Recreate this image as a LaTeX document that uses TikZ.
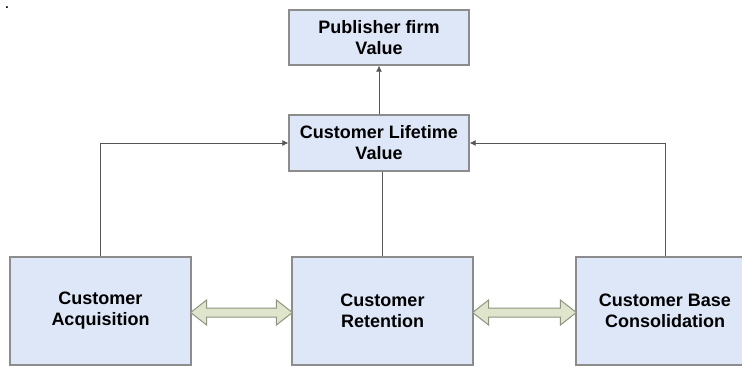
\documentclass[tikz,border=0pt]{standalone}
\usepackage{fontspec}
\setmainfont{Liberation Sans}
\usetikzlibrary{arrows.meta,calc}
\definecolor{boxfill}{HTML}{DDE7F8}
\definecolor{boxline}{HTML}{8C8C8C}
\definecolor{conn}{HTML}{555555}
\definecolor{arrfill}{HTML}{DFE4CC}
\definecolor{arrline}{HTML}{8E9680}
\tikzset{
  box/.style={draw=boxline, line width=1.2pt, fill=boxfill, align=center,
    font=\fontsize{18}{21}\selectfont\bfseries, inner sep=0pt},
  conline/.style={draw=conn, line width=1pt},
  tip/.style={-{Latex[length=6pt,width=6pt]}},
  dblarrow/.style={draw=arrline, fill=arrfill, line width=1pt, line join=miter}
}
\newcommand{\blockarrow}[2]{%
  \path[dblarrow] ($(#1)+(-1,1.5)$) -- ++(16,-12.5) -- ++(0,8) -- ($(#2)+(-15,-3)$)
    -- ++(0,-8) -- ($(#2)+(1,1.5)$) -- ++(-16,12.5) -- ++(0,-8) -- ($(#1)+(15,6)$)
    -- ++(0,8) -- cycle;}
\begin{document}
\begin{tikzpicture}[x=1pt,y=-1pt]
\useasboundingbox (0,0) rectangle (742,365);
\fill[white] (0,0) rectangle (742,365);
\node[font=\fontsize{12}{12}\selectfont\bfseries, inner sep=0pt, anchor=base] (dot) at (7,8) {.};
\node[box, minimum width=180pt, minimum height=55pt] (pub) at (379,37.5) {Publisher firm\\Value};
\node[box, minimum width=180pt, minimum height=56pt] (clv) at (379,143) {Customer Lifetime\\Value};
\node[box, minimum width=181pt, minimum height=108pt] (acq) at (100.5,311) {Customer\\Acquisition};
\node[box, minimum width=181pt, minimum height=108pt] (ret) at (382.5,311) {Customer\\Retention};
\node[box, minimum width=178pt, minimum height=108pt] (con) at (665,311) {Customer Base\\Consolidation};
\draw[conline, tip] (clv.north -| pub.south) -- (pub.south);
\draw[conline, tip] (acq.north) |- (clv.west);
\draw[conline, tip] (con.north) |- (clv.east);
\draw[conline] (ret.north) -- (ret.north |- clv.south);
\blockarrow{acq.east}{ret.west}
\blockarrow{ret.east}{con.west}
\end{tikzpicture}
\end{document}
